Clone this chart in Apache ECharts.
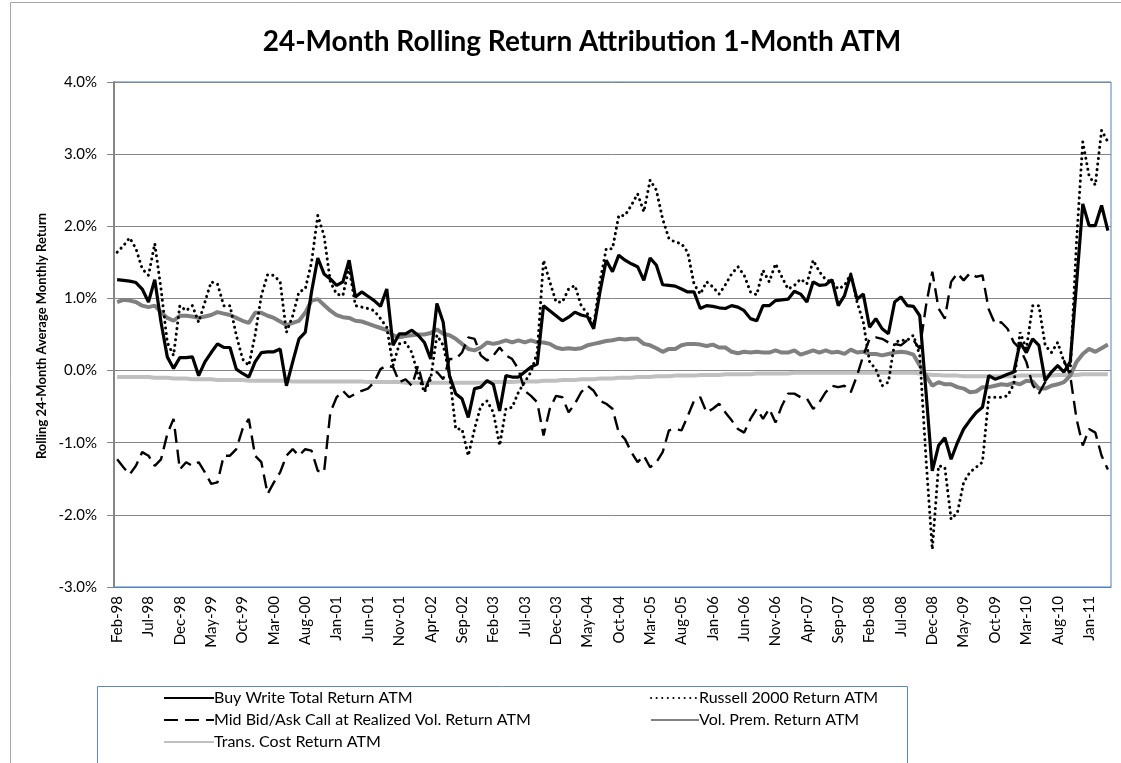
<!DOCTYPE html>
<html>
<head>
<meta charset="utf-8">
<script src="https://cdn.jsdelivr.net/npm/echarts@6/dist/echarts.min.js"></script>
<style>
  html, body { margin: 0; padding: 0; background: #fff; }
  #chart { width: 1121px; height: 763px; }
</style>
</head>
<body>
<div id="chart"></div>
<script>
// month labels Feb-98 .. Apr-11 (159 months)
const MONTHS = ['Jan', 'Feb', 'Mar', 'Apr', 'May', 'Jun', 'Jul', 'Aug', 'Sep', 'Oct', 'Nov', 'Dec']
const categories = []
for (let k = 1; k < 1 + 159; k++) {
  const year = 1998 + Math.floor(k / 12)
  categories.push(MONTHS[k % 12] + '-' + String(year % 100).padStart(2, '0'))
}

const yTicks = [-3, -2, -1, 0, 1, 2, 3, 4]

// values in %
const buyWrite = [
  1.26, 1.25, 1.24, 1.22, 1.13, 0.95, 1.26, 0.67, 0.19, 0.03, 0.18, 0.18, 0.19, -0.07, 0.12, 0.25, 0.37, 0.32, 0.32, 0.02, -0.04, -0.09, 0.12, 0.25, 0.26, 0.26, 0.30,
  -0.21, 0.12, 0.44, 0.53, 1.09, 1.56, 1.34, 1.27, 1.18, 1.23, 1.53, 1.02, 1.09, 1.03, 0.97, 0.89, 1.13, 0.35, 0.51, 0.51, 0.56, 0.49, 0.39, 0.16, 0.93, 0.67, -0.07,
  -0.32, -0.39, -0.65, -0.25, -0.23, -0.14, -0.19, -0.56, -0.07, -0.09, -0.09, -0.02, 0.05, 0.09, 0.90, 0.83, 0.76, 0.69, 0.74, 0.81, 0.77, 0.75, 0.58, 1.09, 1.53, 1.37, 1.60,
  1.53, 1.48, 1.44, 1.25, 1.56, 1.46, 1.19, 1.18, 1.17, 1.13, 1.09, 1.09, 0.86, 0.90, 0.89, 0.87, 0.86, 0.90, 0.88, 0.83, 0.72, 0.69, 0.90, 0.90, 0.97, 0.98, 0.99,
  1.10, 1.06, 0.95, 1.23, 1.18, 1.19, 1.26, 0.90, 1.04, 1.33, 0.99, 1.06, 0.60, 0.72, 0.58, 0.51, 0.95, 1.02, 0.90, 0.89, 0.76, -0.30, -1.39, -1.04, -0.93, -1.23, -1.00,
  -0.81, -0.69, -0.58, -0.51, -0.07, -0.12, -0.09, -0.05, -0.02, 0.39, 0.25, 0.44, 0.35, -0.14, -0.02, 0.07, -0.02, 0.12, 1.20, 2.31, 2.01, 2.01, 2.29, 1.94
]
const russell = [
  1.64, 1.73, 1.84, 1.69, 1.41, 1.32, 1.76, 1.13, 0.39, 0.21, 0.90, 0.83, 0.90, 0.67, 0.95, 1.23, 1.20, 0.90, 0.90, 0.49, 0.16, 0.07, 0.49, 1.04, 1.33, 1.32, 1.23,
  0.53, 0.76, 1.09, 1.13, 1.50, 2.15, 1.87, 1.23, 1.06, 1.04, 1.43, 0.90, 0.88, 0.86, 0.83, 0.72, 0.60, 0.07, 0.37, 0.39, 0.25, -0.07, -0.30, -0.12, 0.49, 0.35, -0.05,
  -0.81, -0.81, -1.18, -0.81, -0.49, -0.42, -0.58, -1.04, -0.53, -0.51, -0.30, -0.16, -0.02, 0.25, 1.53, 1.23, 0.95, 0.95, 1.13, 1.18, 0.90, 0.79, 0.63, 1.23, 1.69, 1.69, 2.15,
  2.15, 2.29, 2.45, 2.20, 2.64, 2.50, 2.10, 1.83, 1.78, 1.76, 1.64, 1.20, 1.06, 1.23, 1.16, 1.06, 1.19, 1.34, 1.44, 1.32, 1.09, 1.05, 1.39, 1.23, 1.48, 1.30, 1.13,
  1.18, 1.27, 1.20, 1.53, 1.37, 1.26, 1.23, 1.13, 1.18, 1.34, 0.95, 0.67, 0.12, 0.02, -0.21, -0.16, 0.39, 0.42, 0.42, 0.49, 0.21, -1.23, -2.48, -1.32, -1.34, -2.06, -1.97,
  -1.55, -1.41, -1.34, -1.27, -0.37, -0.37, -0.37, -0.35, -0.19, 0.53, 0.30, 0.90, 0.90, 0.35, 0.25, 0.39, 0.12, -0.02, 1.78, 3.17, 2.70, 2.57, 3.33, 3.17
]
const midBidAsk = [
  -1.23, -1.34, -1.44, -1.32, -1.13, -1.18, -1.32, -1.23, -0.88, -0.67, -1.37, -1.27, -1.32, -1.27, -1.41, -1.57, -1.55, -1.18, -1.18, -1.09, -0.81, -0.67, -1.18, -1.27, -1.71, -1.55, -1.41,
  -1.18, -1.09, -1.18, -1.09, -1.11, -1.39, -1.41, -0.58, -0.37, -0.28, -0.37, -0.32, -0.28, -0.25, -0.16, 0.02, 0.07, 0.05, -0.16, -0.12, -0.21, 0.07, -0.28, -0.07, -0.02, -0.12, 0.16,
  0.16, 0.25, 0.46, 0.44, 0.21, 0.14, 0.21, 0.32, 0.21, 0.16, 0.02, -0.28, -0.35, -0.44, -0.90, -0.53, -0.35, -0.37, -0.58, -0.46, -0.30, -0.21, -0.28, -0.42, -0.46, -0.53, -0.86,
  -0.95, -1.13, -1.27, -1.18, -1.34, -1.27, -1.13, -0.83, -0.81, -0.83, -0.63, -0.42, -0.37, -0.58, -0.53, -0.46, -0.58, -0.69, -0.81, -0.86, -0.67, -0.53, -0.67, -0.53, -0.72, -0.49, -0.32,
  -0.32, -0.37, -0.39, -0.53, -0.44, -0.30, -0.21, -0.23, -0.21, -0.30, -0.07, 0.21, 0.44, 0.46, 0.44, 0.39, 0.37, 0.35, 0.42, 0.42, 0.30, 0.90, 1.37, 0.86, 0.72, 1.23, 1.35,
  1.25, 1.35, 1.30, 1.32, 0.85, 0.65, 0.67, 0.58, 0.39, 0.30, 0.12, -0.20, -0.32, -0.16, -0.02, 0.07, 0.14, -0.07, -0.67, -1.04, -0.81, -0.86, -1.18, -1.37
]
const volPrem = [
  0.95, 0.98, 0.97, 0.95, 0.90, 0.88, 0.90, 0.81, 0.73, 0.69, 0.76, 0.76, 0.75, 0.73, 0.75, 0.77, 0.81, 0.79, 0.77, 0.73, 0.69, 0.66, 0.80, 0.80, 0.76, 0.73, 0.68,
  0.63, 0.66, 0.69, 0.80, 0.97, 0.99, 0.91, 0.83, 0.77, 0.74, 0.73, 0.69, 0.68, 0.65, 0.62, 0.59, 0.56, 0.49, 0.46, 0.48, 0.49, 0.50, 0.50, 0.52, 0.57, 0.51, 0.49,
  0.44, 0.37, 0.30, 0.28, 0.32, 0.39, 0.37, 0.39, 0.42, 0.39, 0.42, 0.39, 0.42, 0.39, 0.39, 0.37, 0.32, 0.30, 0.31, 0.30, 0.31, 0.35, 0.37, 0.39, 0.41, 0.42, 0.44,
  0.43, 0.44, 0.44, 0.37, 0.35, 0.31, 0.26, 0.30, 0.30, 0.35, 0.37, 0.37, 0.36, 0.34, 0.36, 0.32, 0.32, 0.26, 0.24, 0.26, 0.25, 0.26, 0.25, 0.25, 0.28, 0.25, 0.25,
  0.28, 0.22, 0.25, 0.28, 0.25, 0.28, 0.25, 0.26, 0.23, 0.29, 0.25, 0.26, 0.23, 0.23, 0.21, 0.23, 0.25, 0.26, 0.25, 0.22, 0.07, -0.07, -0.21, -0.16, -0.19, -0.19, -0.23,
  -0.25, -0.30, -0.29, -0.23, -0.23, -0.21, -0.19, -0.20, -0.17, -0.19, -0.14, -0.15, -0.25, -0.25, -0.21, -0.19, -0.16, -0.07, 0.12, 0.23, 0.30, 0.26, 0.31, 0.36
]
const transCost = [
  -0.09, -0.09, -0.09, -0.09, -0.09, -0.09, -0.10, -0.10, -0.10, -0.11, -0.11, -0.11, -0.12, -0.12, -0.12, -0.12, -0.13, -0.13, -0.13, -0.13, -0.13, -0.14, -0.14, -0.14, -0.14, -0.14, -0.14,
  -0.14, -0.15, -0.15, -0.15, -0.15, -0.15, -0.15, -0.15, -0.15, -0.15, -0.15, -0.15, -0.15, -0.16, -0.16, -0.16, -0.16, -0.16, -0.16, -0.17, -0.17, -0.17, -0.17, -0.17, -0.17, -0.17, -0.17,
  -0.17, -0.17, -0.17, -0.17, -0.17, -0.16, -0.16, -0.16, -0.16, -0.16, -0.15, -0.15, -0.15, -0.15, -0.14, -0.14, -0.14, -0.13, -0.13, -0.13, -0.12, -0.12, -0.12, -0.11, -0.11, -0.11, -0.10,
  -0.10, -0.10, -0.09, -0.09, -0.09, -0.08, -0.08, -0.08, -0.07, -0.07, -0.07, -0.07, -0.06, -0.06, -0.06, -0.06, -0.05, -0.05, -0.05, -0.05, -0.05, -0.04, -0.04, -0.04, -0.04, -0.04, -0.04,
  -0.03, -0.03, -0.03, -0.03, -0.03, -0.03, -0.03, -0.03, -0.03, -0.03, -0.03, -0.03, -0.03, -0.03, -0.03, -0.03, -0.03, -0.03, -0.03, -0.03, -0.04, -0.05, -0.06, -0.06, -0.07, -0.07, -0.07,
  -0.08, -0.08, -0.08, -0.08, -0.08, -0.08, -0.08, -0.08, -0.08, -0.07, -0.07, -0.07, -0.07, -0.07, -0.07, -0.06, -0.06, -0.06, -0.06, -0.05, -0.05, -0.05, -0.05, -0.05
]

const FONT = 'Lato, "Open Sans", sans-serif'

const lineSeries = (name, data, lineStyle, z) => ({
  name,
  type: 'line',
  data,
  symbol: 'none',
  smooth: false,
  z,
  lineStyle,
  itemStyle: { color: lineStyle.color }
})

const legendBase = {
  top: 685,
  orient: 'vertical',
  itemHeight: 14,
  itemGap: 6,
  itemStyle: { opacity: 0 },
  textStyle: { fontFamily: FONT, fontSize: 16, color: '#000', padding: [0, 0, 0, -5] }
}

const chart = echarts.init(document.getElementById('chart'))

const option = {
  animation: false,
  backgroundColor: '#fff',
  textStyle: { fontFamily: FONT },
  title: {
    text: '24-Month Rolling Return Attribution 1-Month ATM',
    left: 577,
    top: 23,
    textAlign: 'center',
    textStyle: { fontFamily: FONT, fontSize: 28, fontWeight: 'bold', color: '#000' }
  },
  legend: [
    Object.assign({}, legendBase, {
      left: 158,
      itemWidth: 50,
      data: ['Buy Write Total Return ATM', 'Mid Bid/Ask Call at Realized Vol. Return ATM', 'Trans. Cost Return ATM']
    }),
    Object.assign({}, legendBase, {
      left: 645,
      itemWidth: 48,
      data: ['Russell 2000 Return ATM', 'Vol. Prem. Return ATM']
    })
  ],
  grid: {
    left: 114,
    right: 10,
    top: 82,
    bottom: 176,
    show: true,
    borderColor: '#4f81bd',
    borderWidth: 1,
    containLabel: false
  },
  xAxis: {
    type: 'category',
    data: categories,
    boundaryGap: true,
    axisLine: { show: true, onZero: false, lineStyle: { color: '#4f81bd', width: 1 } },
    axisTick: { show: false },
    axisLabel: {
      interval: 4,
      rotate: 90,
      margin: 9,
      fontFamily: FONT,
      fontSize: 15,
      color: '#000'
    },
    splitLine: { show: false }
  },
  yAxis: {
    type: 'value',
    min: yTicks[0],
    max: yTicks[yTicks.length - 1],
    interval: 1,
    axisLine: { show: true, lineStyle: { color: '#868686', width: 2 } },
    axisTick: { show: true, inside: false, length: 7, lineStyle: { color: '#868686', width: 1 } },
    axisLabel: {
      margin: 17,
      fontFamily: FONT,
      fontSize: 15,
      color: '#000',
      formatter: v => v.toFixed(1) + '%'
    },
    splitLine: { show: true, lineStyle: { color: '#868686', width: 1 } }
  },
  graphic: [
    {
      type: 'rect',
      left: 8,
      top: 0,
      shape: { width: 1130, height: 780 },
      style: { fill: 'none', stroke: '#a6a6a6', lineWidth: 1 },
      silent: true,
      z: -10
    },
    {
      type: 'rect',
      left: 95,
      top: 684,
      shape: { width: 810, height: 77 },
      style: { fill: 'none', stroke: '#5b87c5', lineWidth: 1 },
      silent: true
    },
    {
      type: 'text',
      x: 42,
      y: 336,
      rotation: Math.PI / 2,
      style: {
        text: 'Rolling 24-Month Average Monthly Return',
        fontFamily: FONT,
        fontSize: 13,
        fontWeight: 'bold',
        fill: '#000',
        align: 'center',
        verticalAlign: 'middle'
      },
      silent: true
    }
  ],
  series: [
    lineSeries('Buy Write Total Return ATM', buyWrite, { color: '#000', width: 3.2, type: 'solid' }, 5),
    lineSeries('Russell 2000 Return ATM', russell, { color: '#000', width: 3, type: [0.1, 5.5], cap: 'round' }, 4),
    lineSeries('Mid Bid/Ask Call at Realized Vol. Return ATM', midBidAsk, { color: '#000', width: 2.4, type: [14, 7] }, 3),
    lineSeries('Vol. Prem. Return ATM', volPrem, { color: '#808080', width: 4, type: 'solid' }, 2),
    lineSeries('Trans. Cost Return ATM', transCost, { color: '#c0c0c0', width: 4, type: 'solid' }, 1)
  ]
}

chart.setOption(option)
</script>
</body>
</html>
